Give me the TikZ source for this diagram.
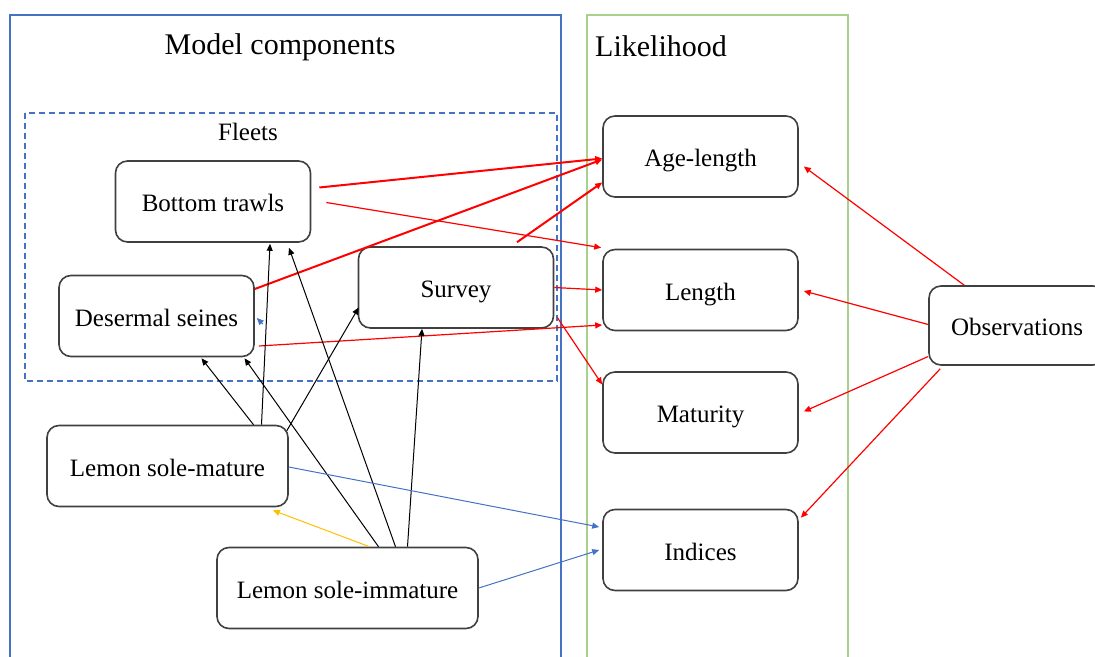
\documentclass[tikz,border=0pt]{standalone}
\usepackage{fontspec}
\setmainfont{Liberation Serif}
\usepackage{tikz}
\usetikzlibrary{calc}
\usetikzlibrary{arrows.meta, positioning}
\definecolor{frameblue}{RGB}{68,114,196}
\definecolor{framegreen}{RGB}{169,209,142}
\definecolor{boxgray}{RGB}{64,64,64}
\definecolor{moveyellow}{RGB}{255,192,0}

\begin{document}
\begin{tikzpicture}[x=0.5pt, y=-0.5pt,
  every node/.style={font=\fontsize{12.5}{15}\selectfont},
  box/.style={draw=boxgray, line width=0.8pt, rounded corners=6pt, minimum width=97.5pt, minimum height=40.5pt, inner sep=0pt, text height=10.5pt, text depth=0.5pt},
  title/.style={font=\fontsize{15}{18}\selectfont},
  link/.style={-{Triangle[length=3.5pt,width=3pt]}, line width=0.5pt},
  redlink/.style={link, red, line width=0.6pt},
  thicklink/.style={link, red, line width=1pt}]
\useasboundingbox (0,0) rectangle (1095,657);

% Frames
\draw[frameblue, line width=0.6pt] (10,670) -- (10,15) -- (561,15) -- (561,670);
\draw[framegreen, line width=0.6pt] (587,670) -- (587,15) -- (848,15) -- (848,670);
\draw[frameblue, line width=0.6pt, dash pattern=on 3pt off 2pt] (25,113) rectangle (557,381);

\node[title] (mc) at (280,47) {Model components};
\node[title] (lh) at (661,46) {Likelihood};
\node (fl) at (248,132) {Fleets};

% Model components
\node[box] (bt) at (213,201.5) {Bottom trawls};
\node[box] (ds) at (156.5,316) {Desermal seines};
\node[box] (sv) at (456,287.5) {Survey};
\node[box, minimum width=120.5pt] (lsm) at (167.5,466) {Lemon sole-mature};
\node[box, minimum width=130.5pt] (lsi) at (347.5,588) {Lemon sole-immature};

% Likelihood
\node[box] (al) at (700.5,156.5) {Age-length};
\node[box] (len) at (700.5,290) {Length};
\node[box] (mat) at (700.5,412.5) {Maturity};
\node[box] (ind) at (700.5,550) {Indices};
\node[box, minimum width=88pt, minimum height=39.5pt] (obs) at (1017,325.5) {Observations};

% Fleets to likelihood
\draw[thicklink] ($(bt.east)+(8,-14)$) -- ($(al.west)+(0,2)$);
\draw[redlink] ($(bt.east)+(15,1)$) -- ($(len.north west)+(-1,-1)$);
\draw[thicklink] ($(ds.east)+(0,-27)$) -- ($(al.west)+(0,3)$);
\draw[thicklink] ($(sv.north)+(61,-4)$) -- ($(al.west)+(0,26)$);
\draw[redlink] (sv.east) -- (len.west);
\draw[redlink] ($(ds.east)+(4,30)$) -- ($(len.west)+(0,35)$);
\draw[redlink] ($(sv.east)+(3,30)$) -- ($(mat.west)+(0,-28)$);

% Observations
\draw[redlink] ($(obs.north west)+(36,0)$) -- ($(al.east)+(5,10)$);
\draw[redlink] ($(obs.west)+(0,-1)$) -- ($(len.east)+(5,1)$);
\draw[redlink] ($(obs.west)+(0,31)$) -- ($(mat.east)+(5,-1)$);
\draw[redlink] ($(obs.south west)+(12,3)$) -- ($(ind.north east)+(2,9)$);

% Stocks to fleets
\draw[link] ($(lsm.north)+(94,0)$) -- ($(bt.south)+(57,1)$);
\draw[link] ($(lsm.north)+(86,0)$) -- ($(ds.south)+(45,1)$);
\draw[link] ($(lsm.north east)+(-2,6)$) -- ($(sv.west)+(1,20)$);
\draw[link] ($(lsi.north)+(31,0)$) -- ($(ds.south)+(88,1)$);
\draw[link] ($(lsi.north)+(48,0)$) -- ($(bt.south)+(76,5)$);
\draw[link] ($(lsi.north)+(60,0)$) -- ($(sv.south)+(-34,0)$);
\draw[link, moveyellow] ($(lsi.north)+(22,0)$) -- ($(lsm.south east)+(-16,3)$);

% Indices
\draw[link, frameblue] ($(lsm.east)+(0,1)$) -- ($(ind.west)+(-3,-23)$);
\draw[link, frameblue] (lsi.east) -- ($(ind.west)+(-3,0)$);
\draw[link, frameblue] ($(ds.east)+(8,8)$) -- ($(ds.east)+(2,2)$);

\end{tikzpicture}
\end{document}
